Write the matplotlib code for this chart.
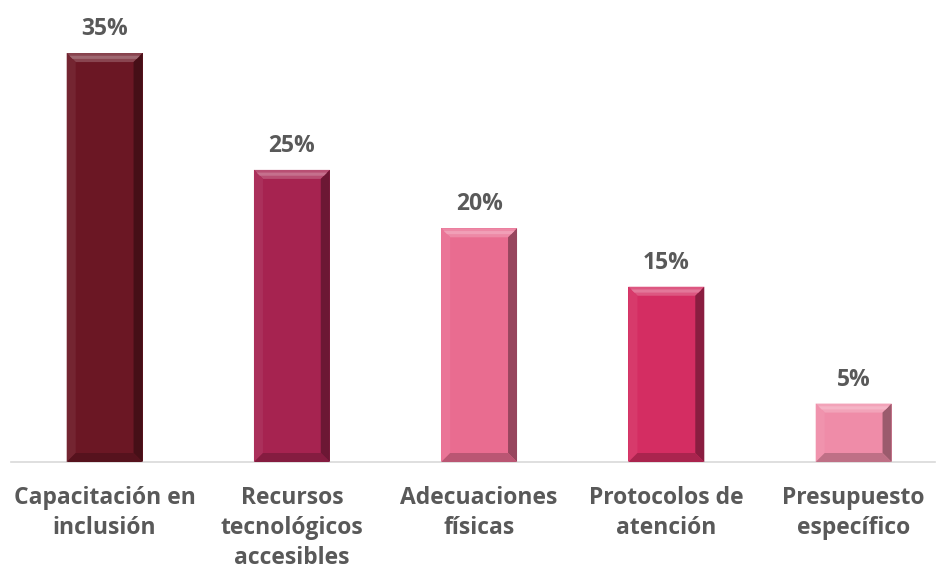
import matplotlib
matplotlib.use("Agg")
import matplotlib.pyplot as plt
from matplotlib.patches import Polygon
from matplotlib.colors import to_rgb

categories = ["Capacitación en\ninclusión", "Recursos\ntecnológicos\naccesibles",
              "Adecuaciones\nfísicas", "Protocolos de\natención", "Presupuesto\nespecífico"]
values = [35, 25, 20, 15, 5]
colors = ["#6B1724", "#A62350", "#E96C90", "#D42D62", "#EF8CA8"]

plt.rcParams['font.family'] = ['Open Sans', 'DejaVu Sans']
text_color = "#595959"


def shade(c, f):
    r, g, b = to_rgb(c)
    if f >= 0:
        return (r + (1 - r) * f, g + (1 - g) * f, b + (1 - b) * f)
    return (r * (1 + f), g * (1 + f), b * (1 + f))


fig = plt.figure(figsize=(9.36, 5.65), dpi=100)
ax = fig.add_axes([11 / 936, 103 / 565, 924 / 936, 444 / 565])
ax.set_xlim(-0.5, -0.5 + 924 / 187.25)
ax.set_ylim(0, 38)

bar_w = 0.405
xs = list(range(len(values)))
ax.bar(xs, values, width=bar_w, color=colors, zorder=2)

# bevel edges, sized in pixels
px_x = (ax.get_xlim()[1] - ax.get_xlim()[0]) / 924
px_y = (ax.get_ylim()[1] - ax.get_ylim()[0]) / 444
bx, by = 9 * px_x, 9 * px_y
for x, v, c in zip(xs, values, colors):
    l, r = x - bar_w / 2, x + bar_w / 2
    t, b = v, 0
    faces = [
        ([(l, t), (r, t), (r - bx, t - by), (l + bx, t - by)], shade(c, 0.2)),
        ([(l, b), (l, t), (l + bx, t - by), (l + bx, b + by)], shade(c, 0.06)),
        ([(r, b), (r, t), (r - bx, t - by), (r - bx, b + by)], shade(c, -0.35)),
        ([(l, b), (r, b), (r - bx, b + by), (l + bx, b + by)], shade(c, -0.2)),
    ]
    for pts, fc in faces:
        ax.add_patch(Polygon(pts, closed=True, facecolor=fc, edgecolor='none', zorder=3))
    # highlight band on top bevel
    ax.add_patch(Polygon([(l + bx * 0.3, t - by * 0.3), (r - bx * 0.3, t - by * 0.3),
                          (r - bx * 0.65, t - by * 0.65), (l + bx * 0.65, t - by * 0.65)],
                         closed=True, facecolor=shade(c, 0.35), edgecolor='none', zorder=4))
    ax.annotate(f"{v}%", (x, v), xytext=(0, 13), textcoords='offset points',
                ha='center', va='baseline', fontsize=16.5, fontweight='bold', color=text_color)

ax.set_xticks(xs)
ax.set_xticklabels(categories, fontsize=16.5, fontweight='bold', color=text_color,
                   linespacing=1.34)
ax.tick_params(axis='x', length=0, pad=17)
ax.set_yticks([])
for s in ['top', 'left', 'right']:
    ax.spines[s].set_visible(False)
ax.spines['bottom'].set_color('#D9D9D9')
ax.spines['bottom'].set_linewidth(1.2)

fig.savefig("out.png", dpi=100)
